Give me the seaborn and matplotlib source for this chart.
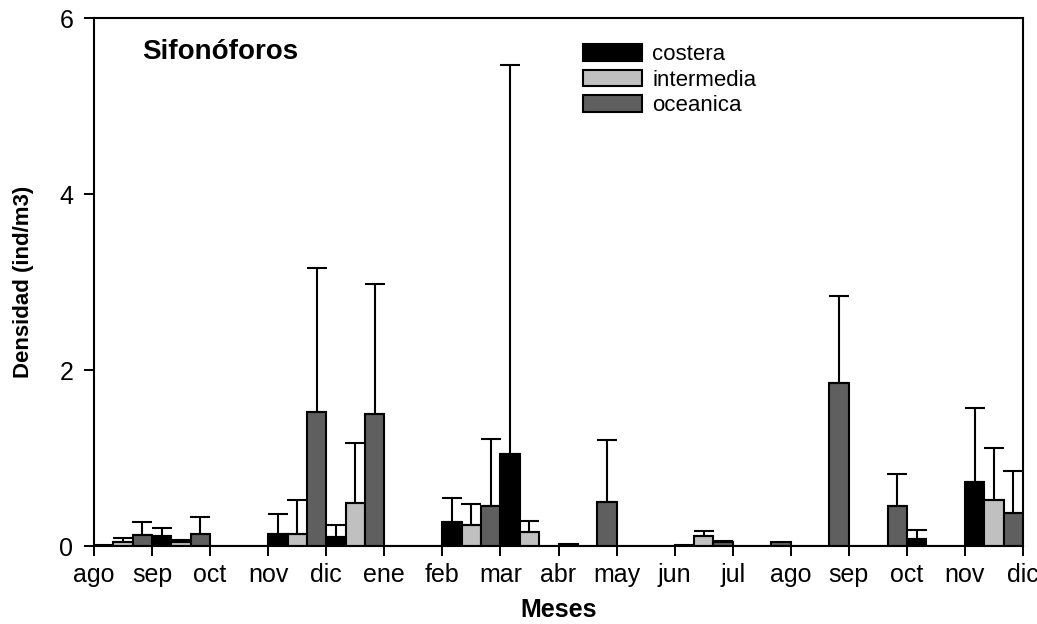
import numpy as np
import pandas as pd
import matplotlib
matplotlib.use("Agg")
import matplotlib.pyplot as plt
import seaborn as sns

# Monthly mean density per zone (ind/m3) and upper error-bar tips
meses = ["ago", "sep", "oct", "nov", "dic", "ene", "feb", "mar", "abr",
         "may", "jun", "jul", "ago", "sep", "oct", "nov", "dic"]
zonas = ["costera", "intermedia", "oceanica"]

costera = [0.01, 0.11, 0.0, 0.14, 0.10, 0.0, 0.27, 1.04, 0.02, 0.0,
           0.01, 0.0, 0.0, 0.0, 0.08, 0.73]
costera_sup = [np.nan, 0.21, np.nan, 0.36, 0.24, np.nan, 0.54, 5.47, np.nan, np.nan,
               np.nan, np.nan, np.nan, np.nan, 0.18, 1.57]

intermedia = [0.04, 0.04, 0.0, 0.14, 0.49, 0.0, 0.24, 0.16, 0.0, 0.0,
              0.11, 0.005, 0.0, 0.0, 0.0, 0.52]
intermedia_sup = [0.09, 0.07, np.nan, 0.52, 1.17, np.nan, 0.48, 0.28, np.nan, np.nan,
                  0.17, np.nan, np.nan, np.nan, np.nan, 1.11]

oceanica = [0.13, 0.14, 0.0, 1.52, 1.50, 0.0, 0.45, 0.0, 0.50, 0.0,
            0.04, 0.04, 1.85, 0.46, 0.0, 0.38]
oceanica_sup = [0.27, 0.33, np.nan, 3.16, 2.98, np.nan, 1.22, np.nan, 1.20, np.nan,
                0.06, np.nan, 2.84, 0.82, np.nan, 0.85]

colores = {"costera": "#000000", "intermedia": "#c0c0c0", "oceanica": "#5f5f5f"}

sns.set_theme(style="ticks")
plt.rcParams["font.family"] = ["Liberation Sans", "DejaVu Sans"]
plt.rcParams.update({"text.color": "black", "axes.labelcolor": "black",
                     "xtick.color": "black", "ytick.color": "black"})

# one slot per bar: three consecutive slots per sampled month
filas = []
for zi, (zona, vals, sups) in enumerate(zip(zonas,
                                            [costera, intermedia, oceanica],
                                            [costera_sup, intermedia_sup, oceanica_sup])):
    for g, (v, s) in enumerate(zip(vals, sups)):
        filas.append({"slot": 3 * g + zi, "zona": zona, "valor": v, "sup": s})
df = pd.DataFrame(filas).sort_values("slot").reset_index(drop=True)

fig = plt.figure(figsize=(10.37, 6.24), dpi=100)
ax = fig.add_axes([94 / 1037, 1 - 546 / 624, 929 / 1037, 528 / 624])

sns.barplot(data=df, x="slot", y="valor", hue="zona", hue_order=zonas,
            palette=colores, dodge=False, width=1.0, errorbar=None,
            edgecolor="black", linewidth=1.5, ax=ax)

# upper-only error bars
err = df.dropna(subset=["sup"])
ax.errorbar(err["slot"], err["valor"],
            yerr=[np.zeros(len(err)), err["sup"] - err["valor"]],
            fmt="none", ecolor="black", elinewidth=1.5, capsize=7.5, capthick=1.5,
            zorder=1)

ax.set_xlim(-0.5, 47.5)
ax.set_ylim(0, 6)
ax.set_xticks([-0.5 + 3 * i for i in range(len(meses))])
ax.set_xticklabels(meses)
ax.set_yticks([0, 2, 4, 6])
ax.tick_params(axis="both", direction="out", length=7, width=1.4,
               labelsize=18, colors="black")
ax.tick_params(axis="x", pad=5)
ax.tick_params(axis="y", pad=8)

for sp in ax.spines.values():
    sp.set_visible(True)
    sp.set_color("black")
    sp.set_linewidth(1.5)

ax.set_xlabel("Meses", fontsize=18, fontweight="bold", labelpad=8)
ax.set_ylabel("Densidad (ind/m3)", fontsize=16, fontweight="bold", labelpad=18)

ax.text(0.052, 0.935, "Sifonóforos", transform=ax.transAxes,
        fontsize=20, fontweight="bold", ha="left", va="center")

leg = ax.legend(loc="upper left", bbox_to_anchor=(0.517, 0.967), frameon=False,
                fontsize=16, handlelength=2.65, handleheight=0.77,
                labelspacing=0.2, handletextpad=0.45, borderaxespad=0)

fig.savefig("out.png", dpi=100)
